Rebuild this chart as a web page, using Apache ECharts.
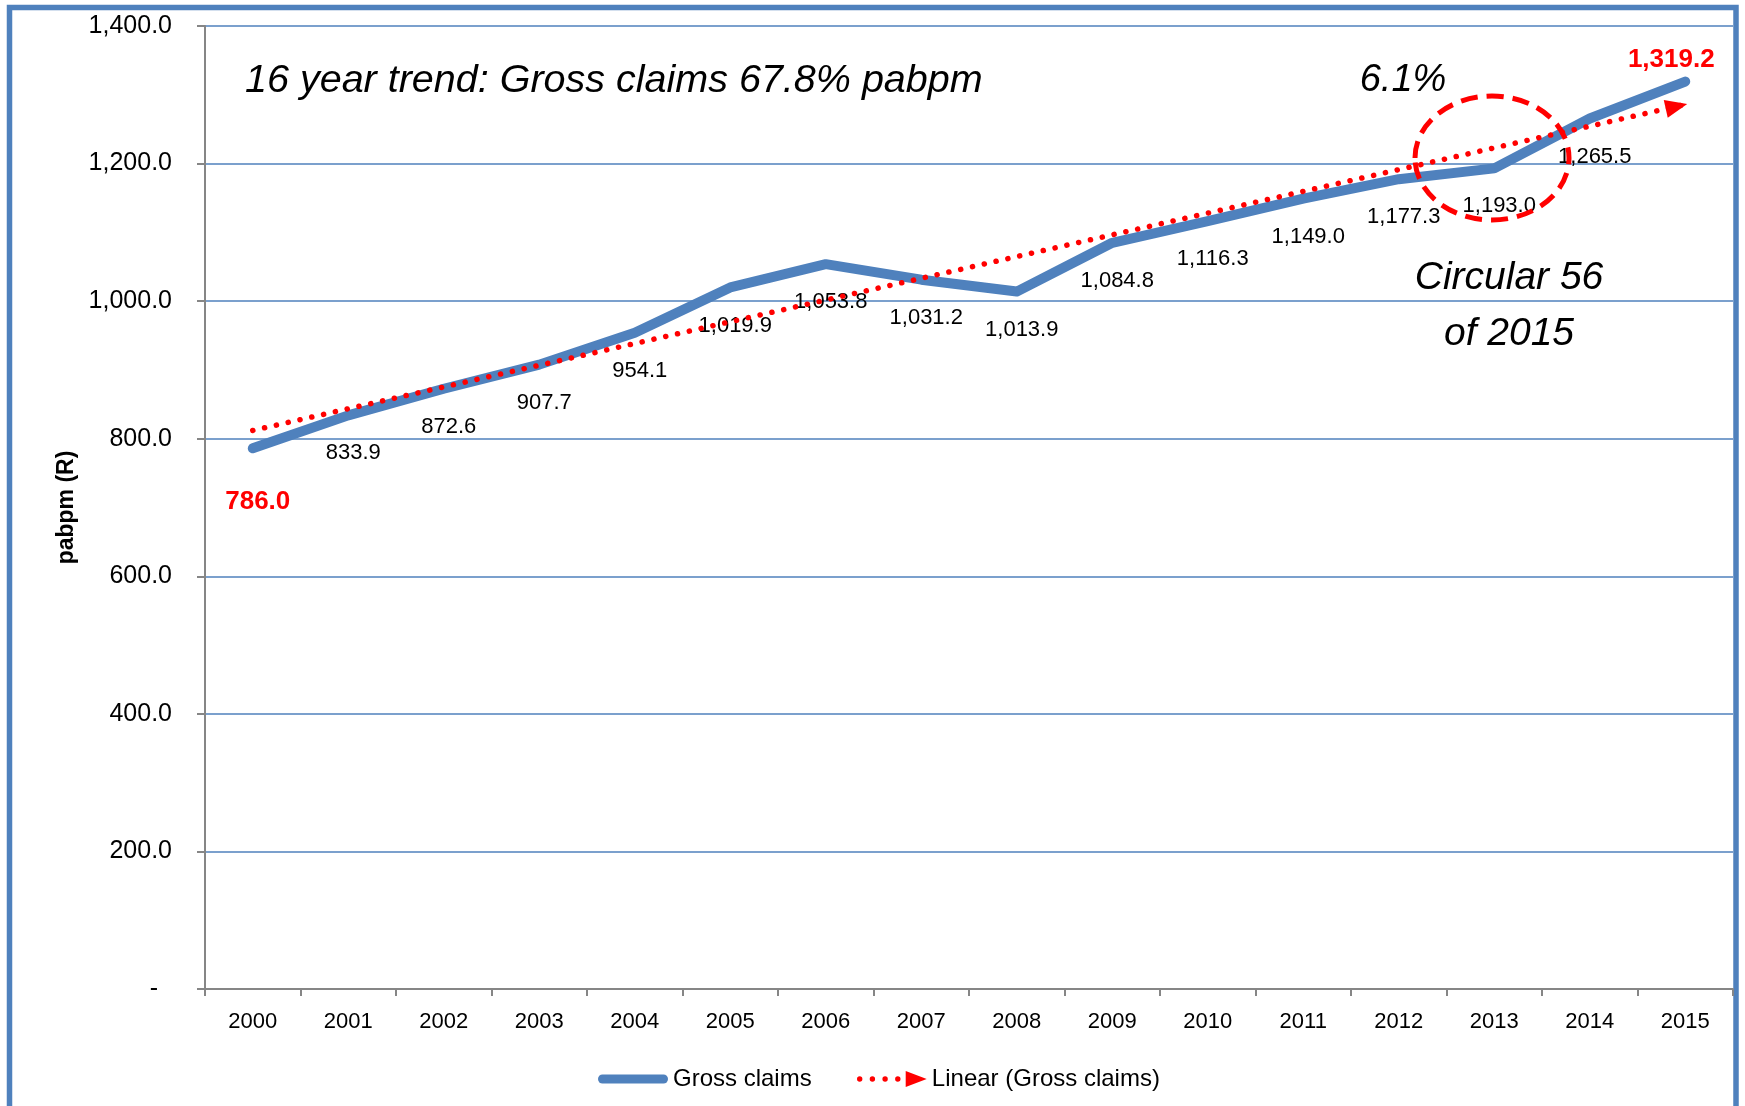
<!DOCTYPE html>
<html>
<head>
<meta charset="utf-8">
<script src="https://cdn.jsdelivr.net/npm/echarts@6/dist/echarts.min.js"></script>
<style>
html,body{margin:0;padding:0;background:#fff;}
#chart{width:1745px;height:1106px;}
</style>
</head>
<body>
<div id="chart"></div>
<script>
// ---- data ----
const categories = ['2000','2001','2002','2003','2004','2005','2006','2007','2008','2009','2010','2011','2012','2013','2014','2015'];
const grossClaims = [786.0, 833.9, 872.6, 907.7, 954.1, 1019.9, 1053.8, 1031.2, 1013.9, 1084.8, 1116.3, 1149.0, 1177.3, 1193.0, 1265.5, 1319.2];
// linear trendline end points
const trendStart = [0, 812];
const trendEnd = [15, 1286];
const yMin = 0, yMax = 1400, yInterval = 200;

const FONT = '"Liberation Sans", Arial, sans-serif';
const BLUE = '#4F81BD';
const RED = '#FF0000';

function fmt(v) {
  return Number(v).toLocaleString('en-US', {minimumFractionDigits: 1, maximumFractionDigits: 1});
}

const lineData = grossClaims.map((v, i) => {
  const item = {value: v};
  if (i === 0) {
    item.label = {color: RED, fontWeight: 'bold', fontSize: 26, offset: [5, 53]};
  } else if (i === grossClaims.length - 1) {
    item.label = {color: RED, fontWeight: 'bold', fontSize: 26, offset: [-14, -22]};
  }
  return item;
});

const chart = echarts.init(document.getElementById('chart'), null, {renderer: 'canvas'});
chart.setOption({
  animation: false,
  backgroundColor: '#ffffff',
  textStyle: {fontFamily: FONT},
  grid: {left: 205, right: 12, top: 26, bottom: 117, containLabel: false},
  xAxis: {
    type: 'category',
    data: categories,
    boundaryGap: true,
    axisLine: {lineStyle: {color: '#868686', width: 2}},
    axisTick: {show: true, length: 7, lineStyle: {color: '#868686', width: 2}},
    axisLabel: {color: '#000', fontSize: 22, margin: 22, fontFamily: FONT}
  },
  yAxis: {
    type: 'value',
    min: yMin, max: yMax, interval: yInterval,
    name: 'pabpm (R)',
    nameLocation: 'middle',
    nameGap: 127,
    nameTextStyle: {color: '#000', fontSize: 23, fontWeight: 'bold', fontFamily: FONT},
    axisLine: {show: true, lineStyle: {color: '#868686', width: 2}},
    axisTick: {show: true, length: 8, lineStyle: {color: '#868686', width: 2}},
    axisLabel: {
      color: '#000', fontSize: 25, margin: 33, fontFamily: FONT,
      padding: [4, 0, 0, 0],
      formatter: v => v === 0 ? '-  ' : fmt(v)
    },
    splitLine: {show: true, lineStyle: {color: BLUE, width: 1.5}}
  },
  legend: [
    {
      data: [{name: 'Gross claims', icon: 'path://M4.5,0H65.5A4.5,4.5 0 0 1 65.5,9H4.5A4.5,4.5 0 0 1 4.5,0Z'}],
      left: 593, top: 1062,
      itemWidth: 70, itemHeight: 9,
      textStyle: {color: '#000', fontSize: 24, fontFamily: FONT}
    },
    {
      data: [{name: 'Linear (Gross claims)', icon: 'path://M0.3,8A2.7,2.7 0 1 0 5.7,8A2.7,2.7 0 1 0 0.3,8Z M13,8A2.7,2.7 0 1 0 18.4,8A2.7,2.7 0 1 0 13,8Z M25.7,8A2.7,2.7 0 1 0 31.1,8A2.7,2.7 0 1 0 25.7,8Z M38.4,8A2.7,2.7 0 1 0 43.8,8A2.7,2.7 0 1 0 38.4,8Z M49,0L70,8L49,16Z'}],
      left: 852, top: 1062,
      itemWidth: 70, itemHeight: 16,
      textStyle: {color: '#000', fontSize: 24, fontFamily: FONT}
    }
  ],
  series: [
    {
      name: 'Gross claims',
      type: 'line',
      data: lineData,
      color: BLUE,
      symbol: 'circle',
      symbolSize: 0.1,
      showSymbol: true,
      lineStyle: {color: BLUE, width: 10, cap: 'round', join: 'round'},
      itemStyle: {color: BLUE},
      label: {
        show: true,
        position: 'inside',
        offset: [5, 38],
        color: '#000',
        fontSize: 22,
        fontFamily: FONT,
        formatter: p => fmt(p.value)
      },
      z: 3
    },
    {
      name: 'Linear (Gross claims)',
      type: 'line',
      color: RED,
      data: [trendStart, trendEnd],
      symbol: 'none',
      lineStyle: {opacity: 0},
      markLine: {
        silent: true,
        symbol: ['none', 'triangle'],
        symbolSize: [18, 22],
        symbolOffset: [0, [0, 9]],
        label: {show: false},
        lineStyle: {color: RED, width: 5.5, type: [0.1, 12], cap: 'round'},
        data: [[{coord: trendStart}, {coord: trendEnd}]]
      },
      z: 4
    }
  ],
  graphic: [
    {
      type: 'rect', z: 0, silent: true,
      shape: {x: 9.5, y: 7.5, width: 1726.5, height: 1200},
      style: {fill: null, stroke: BLUE, lineWidth: 5.5}
    },
    {
      type: 'text', z: 100, left: 245, top: 61,
      style: {text: '16 year trend: Gross claims 67.8% pabpm', fill: '#000', fontSize: 39.5, fontStyle: 'italic', fontFamily: FONT}
    },
    {
      type: 'text', z: 100, x: 1403, y: 80,
      style: {text: '6.1%', fill: '#000', fontSize: 38, fontStyle: 'italic', fontFamily: FONT, align: 'center', verticalAlign: 'middle'}
    },
    {
      type: 'text', z: 100, x: 1509, y: 278,
      style: {text: 'Circular 56', fill: '#000', fontSize: 39, fontStyle: 'italic', fontFamily: FONT, align: 'center', verticalAlign: 'middle'}
    },
    {
      type: 'text', z: 100, x: 1509, y: 334,
      style: {text: 'of 2015', fill: '#000', fontSize: 39, fontStyle: 'italic', fontFamily: FONT, align: 'center', verticalAlign: 'middle'}
    },
    {
      type: 'ellipse', z: 100, silent: true,
      shape: {cx: 1492, cy: 158, rx: 77, ry: 62},
      style: {fill: null, stroke: RED, lineWidth: 5, lineDash: [17, 9]}
    }
  ]
});
</script>
</body>
</html>
